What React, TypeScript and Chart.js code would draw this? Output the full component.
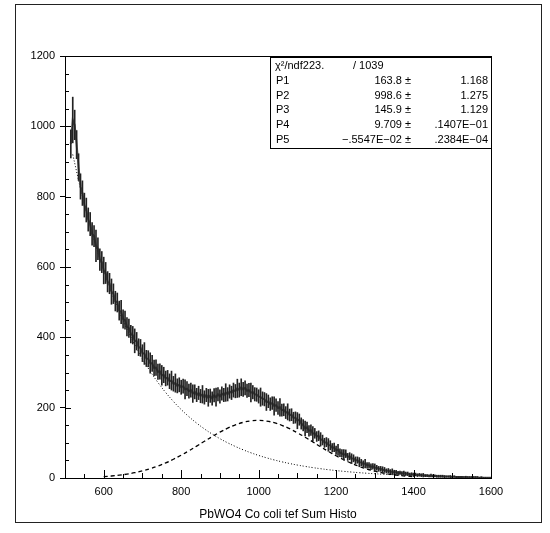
import React, { useEffect, useRef } from "react";
import { Chart, registerables } from "chart.js";

Chart.register(...registerables);

// Histogram: bin centres start at BIN_START, spaced BIN_WIDTH apart
const BIN_START = 515;
const BIN_WIDTH = 5;
const COUNTS = [
  950, 1018, 1004, 948, 884, 829, 810, 776, 762, 735,
  722, 694, 688, 660, 652, 621, 614, 590, 583, 558,
  553, 530, 524, 503, 499, 476, 472, 452, 449, 430,
  426, 409, 406, 390, 389, 372, 370, 355, 354, 340,
  339, 327, 326, 313, 314, 302, 303, 292, 293, 283,
  285, 275, 277, 268, 270, 262, 265, 258, 261, 252,
  254, 247, 250, 240, 245, 236, 242, 233, 238, 229,
  236, 228, 234, 226, 235, 230, 238, 232, 240, 236,
  243, 238, 246, 242, 250, 247, 255, 250, 258, 252,
  256, 248, 250, 243, 244, 238, 237, 232, 230, 226,
  224, 216, 218, 210, 213, 205, 207, 199, 201, 193,
  194, 186, 188, 179, 180, 171, 172, 163, 166, 155,
  150, 141, 144, 134, 136, 126, 127, 118, 120, 110,
  108, 100, 102, 94, 93, 86, 87, 79, 80, 72,
  70, 66, 69, 60, 62, 55, 56, 50, 51, 45,
  44, 40, 41, 36, 36, 32, 33, 29, 29, 26,
  26, 23, 23, 20, 21, 18, 18, 16, 16, 14,
  15, 13, 14, 12, 12, 10, 11, 9, 10, 8,
  9, 8, 8, 7, 7, 6, 7, 6, 6, 5,
  5, 5, 5, 4, 4, 4, 4, 3, 4, 3,
  3, 3, 3, 2, 3, 2, 2, 2, 2, 2,
  2, 1, 2, 1, 1, 1, 1, 1,
];
const ERRORS = [
  40, 65, 42, 40, 38, 36, 35, 34, 34, 33,
  33, 32, 30, 45, 31, 31, 30, 38, 30, 29,
  29, 36, 28, 28, 27, 27, 33, 26, 26, 26,
  26, 25, 25, 34, 25, 24, 24, 24, 31, 23,
  23, 29, 23, 22, 22, 22, 22, 28, 22, 21,
  21, 21, 27, 21, 26, 20, 20, 20, 20, 27,
  20, 20, 20, 25, 20, 19, 19, 19, 25, 19,
  19, 24, 19, 19, 19, 26, 19, 19, 19, 19,
  25, 19, 19, 19, 20, 19, 26, 20, 24, 20,
  20, 19, 19, 27, 19, 19, 19, 19, 26, 19,
  19, 24, 18, 18, 18, 26, 18, 18, 25, 17,
  17, 17, 23, 17, 17, 16, 16, 23, 16, 16,
  16, 21, 15, 15, 15, 20, 14, 14, 14, 19,
  14, 13, 13, 18, 13, 12, 12, 12, 16, 11,
  11, 15, 11, 10, 10, 14, 10, 10, 9, 13,
  9, 9, 12, 8, 8, 8, 8, 11, 7, 7,
  7, 9, 7, 6, 6, 6, 8, 6, 6, 5,
  5, 5, 6, 5, 5, 4, 4, 5, 4, 4,
  4, 4, 5, 3, 3, 3, 4, 3, 3, 3,
  3, 3, 3, 3, 2, 2, 3, 2, 2, 2,
  2, 2, 2, 2, 2, 2, 2, 2, 2, 2,
  2, 1, 1, 1, 1, 1, 1, 1,
];

// Fit components, read every FIT_STEP units
const FIT_STEP = 20;
const BG_START = 520;
const BACKGROUND_FIT = [
  920, 823.6, 737.1, 659.7, 590.4, 528.4, 472.9, 423.3, 378.8, 339.1,
  303.5, 271.6, 243.1, 217.6, 194.7, 174.3, 156.0, 139.6, 124.9, 111.8,
  100.1, 89.6, 80.2, 71.7, 64.2, 57.5, 51.4, 46.0, 41.2, 36.8,
  33.0, 29.5, 26.4, 23.6, 21.1, 18.9, 16.9, 15.1, 13.5, 12.1,
  10.8, 9.7, 8.7, 7.8, 6.9,
];
const GAUSS_START = 600;
const GAUSS_FIT = [
  3.9, 5.65, 8.0, 11.1, 15.1, 20.2, 26.5, 34.1, 43.0, 53.3,
  64.9, 77.4, 90.7, 104.3, 117.7, 130.4, 141.7, 151.1, 158.2, 162.5,
  163.8, 162.0, 157.3, 149.9, 140.2, 128.6, 116.0, 102.7, 88.9, 75.6,
  63.2, 51.8, 41.7, 32.9, 25.5, 19.4, 14.5, 10.6, 7.6, 5.3,
  3.7,
];

const X_TICKS = [600, 800, 1000, 1200, 1400, 1600];
const Y_TICKS = [0, 200, 400, 600, 800, 1000, 1200];
const X_TITLE = "PbWO4 Co coli tef Sum Histo";

const CHI2_TEXT = "χ²/ndf223.";
const NDF_TEXT = "/ 1039";
const STAT_LABELS = ["P1", "P2", "P3", "P4", "P5"];
const STAT_VALUES = ["163.8 ±", "998.6 ±", "145.9 ±", "9.709 ±", "−.5547E−02 ±"];
const STAT_ERRORS = ["1.168", "1.275", "1.129", ".1407E−01", ".2384E−04"];

const FONT = "'Liberation Sans', Arial, sans-serif";

const decorPlugin = {
  id: "decor",
  afterDraw(chart: any) {
    const ctx = chart.ctx as CanvasRenderingContext2D;
    const { left, right, top, bottom } = chart.chartArea;
    const xs = chart.scales.x;
    const ys = chart.scales.y;
    ctx.save();
    ctx.strokeStyle = "#000";
    ctx.lineWidth = 1;
    ctx.strokeRect(Math.round(left) + 0.5, Math.round(top) + 0.5, Math.round(right - left), Math.round(bottom - top));

    // inward ticks
    ctx.beginPath();
    for (let v = 550; v < 1600; v += 50) {
      const px = Math.round(xs.getPixelForValue(v)) + 0.5;
      const len = v % 200 === 0 ? 8 : v % 100 === 0 ? 5 : 4;
      ctx.moveTo(px, bottom);
      ctx.lineTo(px, bottom - len);
    }
    for (let v = 50; v < 1200; v += 50) {
      const py = Math.round(ys.getPixelForValue(v)) + 0.5;
      const len = v % 200 === 0 ? 6 : 4;
      ctx.moveTo(left, py);
      ctx.lineTo(left + len, py);
    }
    ctx.stroke();

    // outer frame
    ctx.strokeStyle = "#222";
    ctx.strokeRect(15.5, 4.5, 526, 518);

    // stats box
    const bx = Math.round(right) - 221;
    const by = Math.round(top) + 1;
    ctx.fillStyle = "#fff";
    ctx.fillRect(bx, by, 221, 91);
    ctx.strokeStyle = "#000";
    ctx.strokeRect(bx + 0.5, by + 0.5, 221, 91);
    ctx.fillStyle = "#000";
    ctx.font = `11px ${FONT}`;
    ctx.textBaseline = "middle";
    const rowY = (i: number) => by + 9 + i * 14.8;
    ctx.textAlign = "left";
    ctx.fillText(CHI2_TEXT, bx + 5, rowY(0));
    ctx.fillText(NDF_TEXT, bx + 83, rowY(0));
    STAT_LABELS.forEach((lab, i) => {
      ctx.textAlign = "left";
      ctx.fillText(lab, bx + 6, rowY(i + 1));
      ctx.textAlign = "right";
      ctx.fillText(STAT_VALUES[i], bx + 141, rowY(i + 1));
      ctx.fillText(STAT_ERRORS[i], bx + 218, rowY(i + 1));
    });
    ctx.restore();
  },
};

export default function App() {
  const ref = useRef<HTMLCanvasElement | null>(null);
  useEffect(() => {
    if (!ref.current) return;
    const binX = (i: number) => BIN_START + i * BIN_WIDTH;
    const chart = new Chart(ref.current, {
      type: "line",
      data: {
        datasets: [
          {
            type: "bar",
            label: "errors",
            data: COUNTS.map((c, i) => ({ x: binX(i), y: [c - ERRORS[i], c + ERRORS[i]] })) as any,
            backgroundColor: "#222",
            borderWidth: 0,
            barThickness: 1,
            order: 0,
          } as any,
          {
            type: "line",
            label: "data",
            data: COUNTS.map((c, i) => ({ x: binX(i), y: c })),
            borderColor: "#555",
            borderWidth: 2,
            pointRadius: 0,
            tension: 0,
            order: 1,
          },
          {
            type: "line",
            label: "background",
            data: BACKGROUND_FIT.map((v, i) => ({ x: BG_START + i * FIT_STEP, y: v })),
            borderColor: "#000",
            borderWidth: 1,
            borderDash: [1, 2],
            pointRadius: 0,
            tension: 0.4,
            order: 2,
          },
          {
            type: "line",
            label: "gauss",
            data: GAUSS_FIT.map((v, i) => ({ x: GAUSS_START + i * FIT_STEP, y: v })),
            borderColor: "#000",
            borderWidth: 1.3,
            borderDash: [4, 3],
            pointRadius: 0,
            tension: 0.4,
            order: 3,
          },
        ],
      },
      options: {
        responsive: false,
        animation: false,
        events: [],
        layout: { padding: { left: 0, right: 59, top: 56, bottom: 11 } },
        plugins: { legend: { display: false }, tooltip: { enabled: false } },
        scales: {
          x: {
            type: "linear",
            min: 500,
            max: 1600,
            offset: false,
            afterBuildTicks: (s: any) => {
              s.ticks = X_TICKS.map((v) => ({ value: v }));
            },
            afterFit: (s: any) => {
              s.height = 44;
            },
            grid: { display: true, drawOnChartArea: false, drawTicks: false },
            border: { display: true, color: "#000", width: 1 },
            ticks: {
              color: "#000",
              padding: 7,
              maxRotation: 0,
              font: { family: FONT, size: 11 },
              callback: (v: any) => String(v),
            },
            title: {
              display: true,
              text: X_TITLE,
              color: "#000",
              font: { family: FONT, size: 12 },
              padding: { top: 0, bottom: 0 },
            },
          },
          y: {
            type: "linear",
            min: 0,
            max: 1200,
            afterBuildTicks: (s: any) => {
              s.ticks = Y_TICKS.map((v) => ({ value: v }));
            },
            afterFit: (s: any) => {
              s.width = 65;
            },
            grid: { display: true, drawOnChartArea: false, drawTicks: true, tickLength: 5, color: "#000" },
            border: { display: true, color: "#000", width: 1 },
            ticks: {
              color: "#000",
              padding: 5,
              font: { family: FONT, size: 11 },
              callback: (v: any) => String(v),
            },
          },
        },
      },
      plugins: [decorPlugin],
    });
    return () => chart.destroy();
  }, []);
  return (
    <div style={{ position: "absolute", left: 0, top: 0, width: 550, height: 533, background: "#fff" }}>
      <canvas ref={ref} width={550} height={533} style={{ display: "block" }} />
    </div>
  );
}
